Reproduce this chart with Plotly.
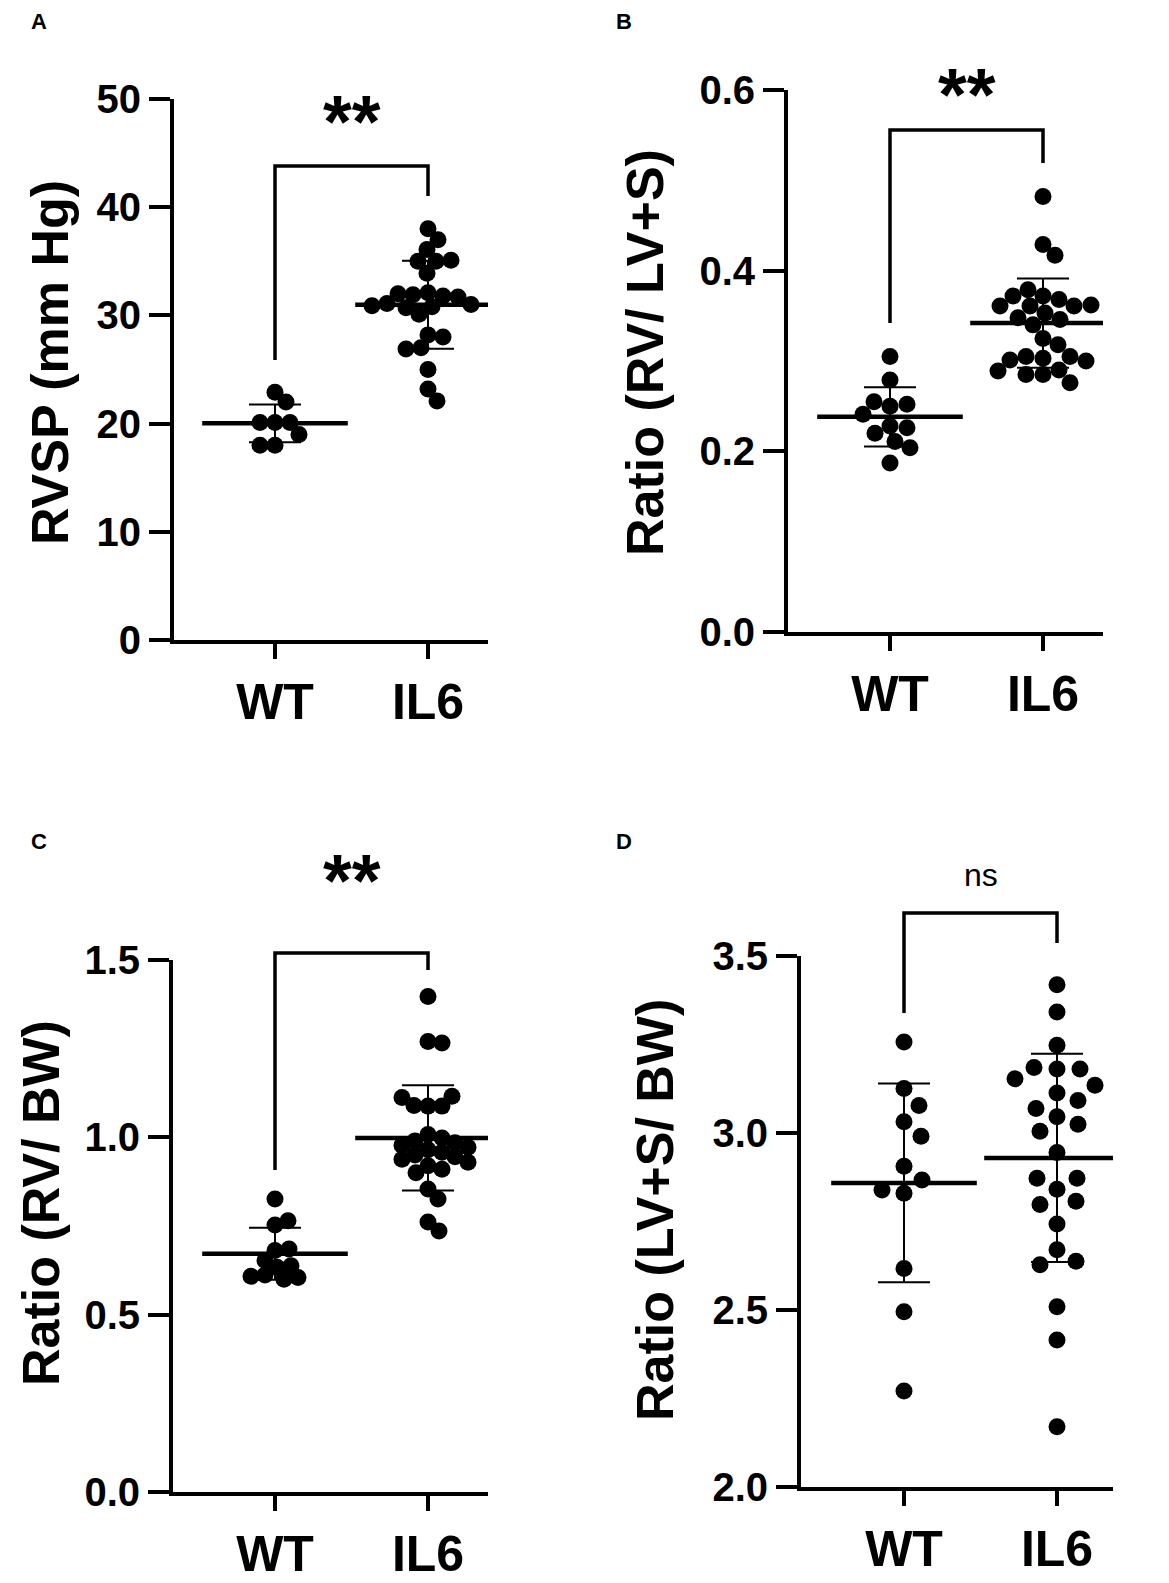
import numpy as np
import plotly.graph_objects as go

groups = ["WT", "IL6"]

# panel A - RVSP (mm Hg)
rvsp_wt = [22.9, 22.0, 20.1, 20.1, 20.1, 19.0, 18.0, 18.0]
rvsp_il6 = [38.0, 37.0, 36.1, 35.0, 35.0, 35.1, 33.9, 32.1, 31.8, 31.9, 31.7, 32.0,
            31.1, 30.8, 31.0, 30.9, 30.7, 30.1, 28.2, 28.0, 27.0, 26.9, 25.0, 23.2, 22.1]

# panel B - RV / (LV+S)
rv_lvs_wt = [0.305, 0.279, 0.250, 0.252, 0.255, 0.241, 0.228, 0.226, 0.220, 0.211, 0.204, 0.187]
rv_lvs_il6 = [0.482, 0.429, 0.417, 0.372, 0.368, 0.379, 0.372, 0.361, 0.361, 0.361, 0.362,
              0.353, 0.346, 0.348, 0.340, 0.325, 0.318, 0.303, 0.305, 0.305, 0.301, 0.300,
              0.285, 0.290, 0.285, 0.289, 0.276]

# panel C - RV / BW
rv_bw_wt = [0.826, 0.753, 0.765, 0.681, 0.685, 0.653, 0.634, 0.638, 0.612, 0.605, 0.600, 0.608]
rv_bw_il6 = [1.397, 1.270, 1.266, 1.088, 1.088, 1.090, 1.116, 1.112,
             1.008, 0.998, 0.990, 0.985, 0.978, 0.972, 0.965, 0.958, 0.950, 0.945,
             0.938, 0.930, 0.920, 0.910, 0.900, 0.854, 0.826, 0.761, 0.736]

# panel D - (LV+S) / BW
lvs_bw_wt = [3.257, 3.126, 3.078, 3.032, 2.991, 2.906, 2.867, 2.830, 2.839, 2.617, 2.495, 2.271]
lvs_bw_il6 = [3.419, 3.342, 3.248, 3.181, 3.181, 3.185, 3.153, 3.135, 3.113, 3.092, 3.046,
              3.069, 3.025, 3.005, 2.945, 2.841, 2.872, 2.872, 2.807, 2.798, 2.743, 2.670,
              2.638, 2.628, 2.509, 2.415, 2.170]

panel_letters = ["A", "B", "C", "D"]
y_titles = ["RVSP (mm Hg)", "Ratio (RV/ LV+S)", "Ratio (RV/ BW)", "Ratio (LV+S/ BW)"]
y_ranges = [[0, 50], [0, 0.6], [0, 1.5], [2.0, 3.5]]
y_dticks = [10, 0.2, 0.5, 0.5]
y_formats = ["d", ".1f", ".1f", ".1f"]
sig_labels = ["**", "**", "**", "ns"]
series = [(rvsp_wt, rvsp_il6), (rv_lvs_wt, rv_lvs_il6), (rv_bw_wt, rv_bw_il6), (lvs_bw_wt, lvs_bw_il6)]

W, H = 1169, 1583
FONT = "Liberation Sans"
GAP = 153      # px between the two columns
DOT = 17       # marker diameter, px

# pixel frame of every panel: y axis x, WT x, x-axis end, top / bottom of y axis
# bracket = (left leg bottom, bar, right leg bottom, label centre) in px
frames = [
    dict(axis=166, wt=267, right=480, top=91, bottom=632, title=(42, 355), letter=(31, 14),
         bracket=(352, 158, 188, 107), spread=0.85),
    dict(axis=780, wt=882, right=1095, top=82, bottom=624, title=(637, 345), letter=(616, 14),
         bracket=(315, 122, 155, 80), spread=0.95),
    dict(axis=165, wt=267, right=480, top=952, bottom=1484, title=(33, 1195), letter=(31, 833),
         bracket=(1162, 945, 962, 866), spread=0.8),
    dict(axis=793, wt=896, right=1105, top=948, bottom=1479, title=(647, 1202), letter=(616, 833),
         bracket=(1005, 905, 935, 866), spread=1.3),
]


def swarm(vals, ppu, tol):
    # greedy beeswarm, offsets in px
    placed = []
    out = []
    for v in vals:
        y = v * ppu
        k = 0
        while True:
            c = ((k + 1) // 2) * (1 if k % 2 else -1)
            if all((c - px) ** 2 + (y - py) ** 2 >= (DOT * tol) ** 2 for px, py in placed):
                break
            k += 1
        placed.append((c, y))
        out.append(c)
    return np.array(out, dtype=float)


fig = go.Figure()
annotations = []
shapes = []

for i, f in enumerate(frames):
    sfx = "" if i == 0 else str(i + 1)
    xr, yr = "x" + sfx, "y" + sfx
    ymin, ymax = y_ranges[i]
    ppu = (f["bottom"] - f["top"]) / (ymax - ymin)

    for g, vals in enumerate(series[i]):
        offs = swarm(vals, ppu, f["spread"])
        fig.add_trace(go.Scatter(
            x=g + offs / GAP, y=vals, mode="markers", xaxis=xr, yaxis=yr,
            marker=dict(size=DOT, color="black"), hoverinfo="skip", cliponaxis=False))
        m = float(np.mean(vals))
        sd = float(np.std(vals, ddof=1))
        fig.add_trace(go.Scatter(
            x=[g], y=[m], mode="markers", xaxis=xr, yaxis=yr, hoverinfo="skip",
            marker=dict(symbol="line-ew", size=104, color="black",
                        line=dict(width=4.5, color="black")),
            error_y=dict(type="data", array=[sd], width=26, thickness=2, color="black")))

    # significance bracket (paper coordinates, so it is never clipped)
    lb, top, rb, txt = f["bracket"]
    xl, xrt = f["wt"] / W, (f["wt"] + GAP) / W
    shapes.append(dict(
        type="path", xref="paper", yref="paper",
        path=f"M {xl},{1 - lb / H} L {xl},{1 - top / H} L {xrt},{1 - top / H} L {xrt},{1 - rb / H}",
        line=dict(color="black", width=3.5)))

    if sig_labels[i] == "**":
        annotations.append(dict(
            text="**", x=(xl + xrt) / 2, xref="paper", y=1 - (txt + 7) / H, yref="paper",
            xanchor="center", yanchor="middle", showarrow=False,
            font=dict(family=FONT, size=74, color="black", weight="bold")))
    else:
        annotations.append(dict(
            text=sig_labels[i], x=(xl + xrt) / 2, xref="paper", y=1 - (txt + 1) / H, yref="paper",
            xanchor="center", yanchor="middle", showarrow=False,
            font=dict(family=FONT, size=32, color="black")))

    annotations.append(dict(
        text=y_titles[i], x=f["title"][0] / W, y=1 - f["title"][1] / H,
        xref="paper", yref="paper", textangle=-90, showarrow=False,
        xanchor="center", yanchor="middle",
        font=dict(family=FONT, size=52, color="black", weight="bold")))
    annotations.append(dict(
        text=panel_letters[i], x=f["letter"][0] / W, y=1 - f["letter"][1] / H,
        xref="paper", yref="paper", showarrow=False, xanchor="center", yanchor="middle",
        font=dict(family=FONT, size=22, color="black", weight="bold")))

    x_lo = (f["axis"] - f["wt"]) / GAP
    x_hi = (f["right"] - f["wt"]) / GAP
    fig.update_layout(**{
        "xaxis" + sfx: dict(
            domain=[f["axis"] / W, f["right"] / W], range=[x_lo, x_hi], anchor=yr,
            tickvals=[0, 1], ticktext=groups, ticks="outside", ticklen=15, tickwidth=4,
            showline=True, linewidth=4, linecolor="black", tickcolor="black",
            showgrid=False, zeroline=False,
            tickfont=dict(family=FONT, size=50, color="black", weight="bold")),
        "yaxis" + sfx: dict(
            domain=[1 - f["bottom"] / H, 1 - f["top"] / H], range=[ymin, ymax], anchor=xr,
            tick0=ymin, dtick=y_dticks[i], tickformat=y_formats[i],
            ticks="outside", ticklen=21, tickwidth=4,
            showline=True, linewidth=4, linecolor="black", tickcolor="black",
            showgrid=False, zeroline=False,
            tickfont=dict(family=FONT, size=40, color="black", weight="bold")),
    })

fig.update_layout(
    template="none", width=W, height=H, margin=dict(l=0, r=0, t=0, b=0),
    paper_bgcolor="white", plot_bgcolor="white", showlegend=False,
    font=dict(family=FONT, color="black"), annotations=annotations, shapes=shapes)

fig.write_html("out.html")
